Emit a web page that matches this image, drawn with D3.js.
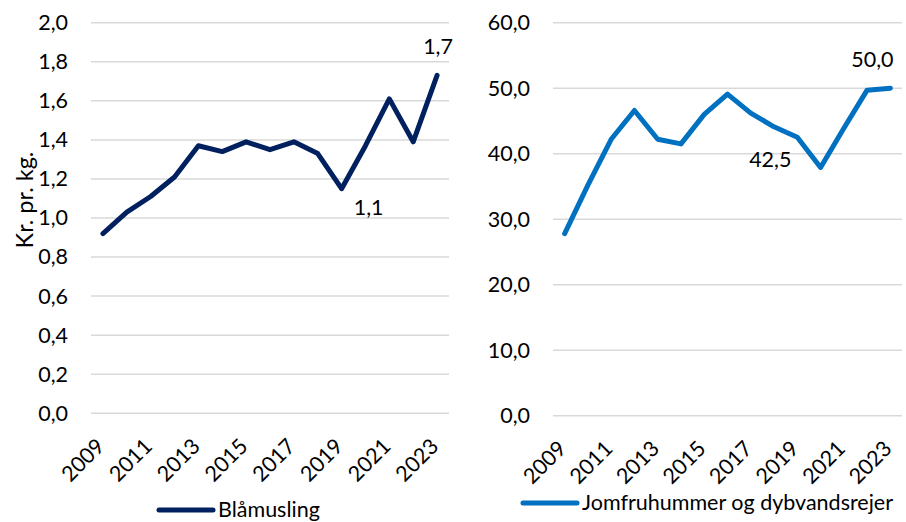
<!DOCTYPE html>
<html>
<head>
<meta charset="utf-8">
<script src="https://cdn.jsdelivr.net/npm/d3@7"></script>
<style>
  body { margin: 0; background: #fff; }
  svg text { font-family: Lato, "Open Sans", sans-serif; fill: #000; }
  .grid line { stroke: #d9d9d9; stroke-width: 1.5; }
</style>
</head>
<body>
<div id="chart"></div>
<script>
// data
const years = [2009, 2010, 2011, 2012, 2013, 2014, 2015, 2016, 2017, 2018, 2019, 2020, 2021, 2022, 2023]
const tickYears = [2009, 2011, 2013, 2015, 2017, 2019, 2021, 2023]
const blaamusling = [0.92, 1.03, 1.11, 1.21, 1.37, 1.34, 1.39, 1.35, 1.39, 1.33, 1.15, 1.37, 1.61, 1.39, 1.73]
const jomfruhummer = [27.8, 35.2, 42.2, 46.6, 42.2, 41.5, 46.0, 49.1, 46.2, 44.1, 42.5, 37.9, 43.9, 49.7, 50.0]
const leftTicks = [0, 0.2, 0.4, 0.6, 0.8, 1.0, 1.2, 1.4, 1.6, 1.8, 2.0]
const rightTicks = [0, 10, 20, 30, 40, 50, 60]
// labelled points: [year, text, dx, dy]
const leftLabels = [[2019, '1,1', 27, 26], [2023, '1,7', 1, -21]]
const rightLabels = [[2019, '42,5', -27, 30], [2023, '50,0', -18, -21]]

const width = 906
const height = 522
const fontSize = '21.5px'
const fmt = d => d3.format('.1f')(d).replace('.', ',')

const svg = d3.select('#chart')
  .append('svg')
  .attr('width', width)
  .attr('height', height)

function panel(opts) {
  const xScale = d3.scalePoint()
    .domain(years)
    .range([opts.x0, opts.x1])
    .padding(0.5)

  const yScale = d3.scaleLinear()
    .domain([0, opts.max])
    .range([opts.y0, opts.y1])

  const g = svg.append('g')

  // gridlines
  g.append('g')
    .attr('class', 'grid')
    .selectAll('line')
    .data(opts.ticks)
    .join('line')
    .attr('x1', opts.x0)
    .attr('x2', opts.x1)
    .attr('y1', d => yScale(d))
    .attr('y2', d => yScale(d))

  // y axis
  const yAxis = d3.axisLeft(yScale)
    .tickValues(opts.ticks)
    .tickFormat(fmt)
    .tickSize(0)
    .tickPadding(opts.x0 - opts.labelRight)
  const yg = g.append('g')
    .attr('transform', `translate(${opts.x0},0)`)
    .call(yAxis)
  yg.select('.domain').remove()
  yg.selectAll('text').style('font-size', fontSize)

  // x axis, labels rotated -45 and ending at the tick
  const xAxis = d3.axisBottom(xScale)
    .tickValues(tickYears)
    .tickSize(0)
  const xg = g.append('g')
    .attr('transform', `translate(0,${opts.y0})`)
    .call(xAxis)
  xg.select('.domain').remove()
  xg.selectAll('text')
    .style('font-size', fontSize)
    .attr('text-anchor', 'end')
    .attr('x', 0)
    .attr('y', 0)
    .attr('dy', '0.35em')
    .attr('transform', 'translate(-3,29) rotate(-45)')

  // line
  const line = d3.line()
    .x((d, i) => xScale(years[i]))
    .y(d => yScale(d))
  g.append('path')
    .datum(opts.values)
    .attr('d', line)
    .attr('fill', 'none')
    .attr('stroke', opts.color)
    .attr('stroke-width', 5)
    .attr('stroke-linejoin', 'round')
    .attr('stroke-linecap', 'round')

  // data labels
  g.selectAll('.dlabel')
    .data(opts.labels)
    .join('text')
    .attr('class', 'dlabel')
    .attr('x', d => xScale(d[0]) + d[2])
    .attr('y', d => yScale(opts.values[years.indexOf(d[0])]) + d[3])
    .attr('text-anchor', 'middle')
    .style('font-size', fontSize)
    .text(d => d[1])

  // legend
  g.append('line')
    .attr('x1', opts.legX)
    .attr('x2', opts.legX + 54)
    .attr('y1', opts.legY)
    .attr('y2', opts.legY)
    .attr('stroke', opts.color)
    .attr('stroke-width', 5)
    .attr('stroke-linecap', 'round')
  g.append('text')
    .attr('x', opts.legX + 59)
    .attr('y', opts.legY + 7)
    .style('font-size', fontSize)
    .text(opts.name)
}

panel({
  x0: 91, x1: 449, y0: 413.3, y1: 22.7, max: 2.0,
  ticks: leftTicks, labelRight: 68,
  values: blaamusling, color: '#002060', labels: leftLabels,
  legX: 159, legY: 510, name: 'Blåmusling'
})

panel({
  x0: 553, x1: 902, y0: 415.7, y1: 22.7, max: 60,
  ticks: rightTicks, labelRight: 530,
  values: jomfruhummer, color: '#0070c0', labels: rightLabels,
  legX: 523, legY: 503, name: 'Jomfruhummer og dybvandsrejer'
})

// y axis title
svg.append('text')
  .attr('transform', 'translate(33,200) rotate(-90)')
  .attr('text-anchor', 'middle')
  .style('font-size', '23.5px')
  .text('Kr. pr. kg.')
</script>
</body>
</html>
